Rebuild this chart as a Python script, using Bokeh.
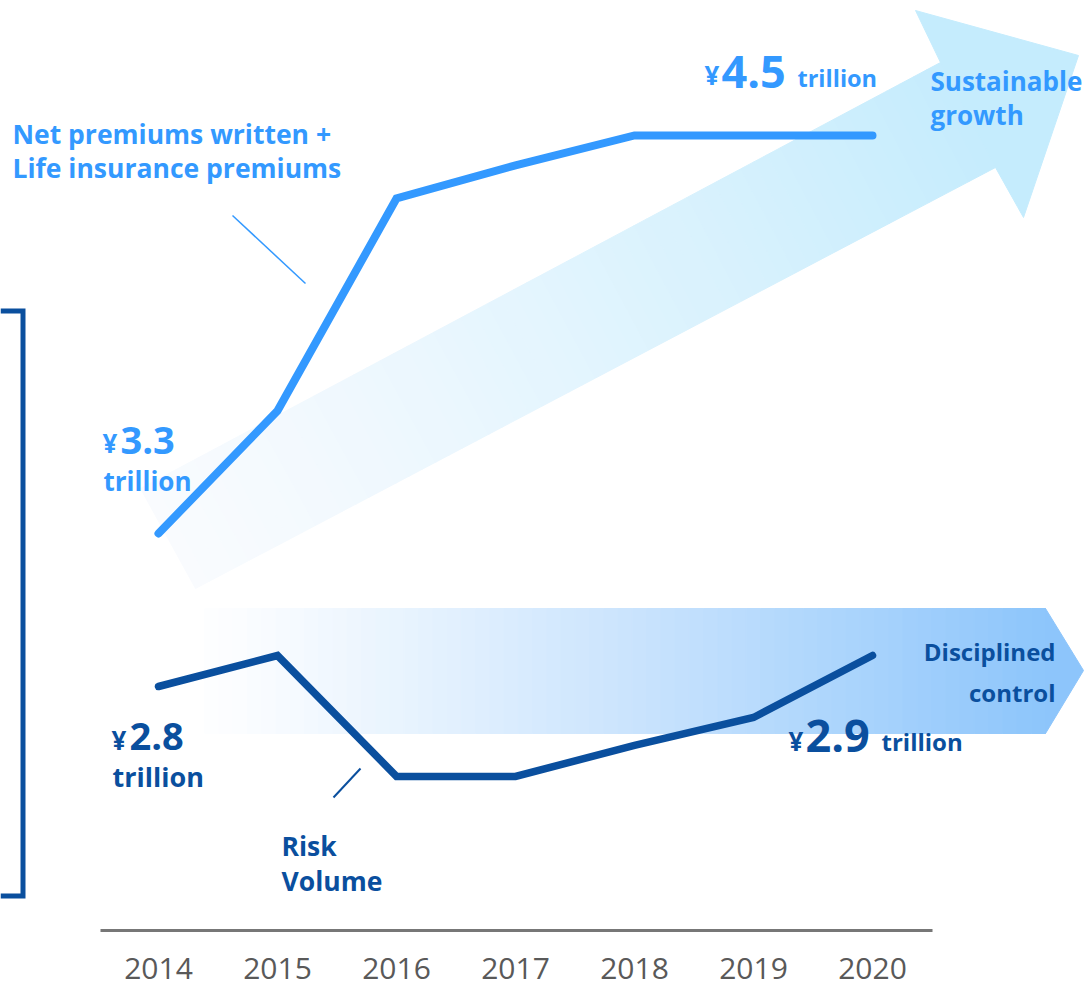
from bokeh.plotting import figure
from bokeh.models import Range1d
from bokeh.core.properties import value
from bokeh.embed import file_html
from bokeh.resources import INLINE

# ---------------- data ----------------
years = [2014, 2015, 2016, 2017, 2018, 2019, 2020]
year_labels = ["2014", "2015", "2016", "2017", "2018", "2019", "2020"]
premiums = [3.3, 3.67, 4.31, 4.41, 4.5, 4.5, 4.5]      # trillion yen
risk_volume = [2.8, 2.9, 2.51, 2.51, 2.61, 2.70, 2.9]  # trillion yen

# ---------------- layout helpers (pixel -> data) ----------------
W, H = 1089, 987
PX0, PXS = 158.0, 119.0          # pixel of first year, pixels per year
PA, PB = 1627.5, 331.67          # premiums scale: py = PA - PB*v
RA, RB = 1554.0, 310.0           # risk scale

def X(px):
    return years[0] + (px - PX0) / PXS

def Y(py):
    return (PA - py) / PB

LIGHT = "#3399ff"
DARK = "#0a4f9e"
FONT = value("Open Sans")

p = figure(width=W, height=H, output_backend="svg", toolbar_location=None,
           x_range=Range1d(X(0), X(W)), y_range=Range1d(Y(H), Y(0)),
           x_axis_type=None, y_axis_type=None, min_border=0,
           outline_line_color=None, background_fill_color="white",
           border_fill_color="white")
p.extra_y_ranges = {"risk": Range1d((RA - H) / RB, RA / RB)}
p.grid.visible = False

def mix(c0, c1, t):
    return "#%02x%02x%02x" % tuple(int(round(a + (b - a) * t)) for a, b in zip(c0, c1))

# ---------------- upper (growth) arrow with gradient ----------------
TL, TR = (140, 488), (940, 62)
BL, BR = (195, 588), (995, 167)
c_start, c_end = (249, 251, 254), (197, 236, 253)
N = 60
xs, ys, cols = [], [], []
for i in range(N):
    t0, t1 = i / N, (i + 1) / N
    pts = [
        (TL[0] + (TR[0] - TL[0]) * t0, TL[1] + (TR[1] - TL[1]) * t0),
        (TL[0] + (TR[0] - TL[0]) * t1, TL[1] + (TR[1] - TL[1]) * t1),
        (BL[0] + (BR[0] - BL[0]) * t1, BL[1] + (BR[1] - BL[1]) * t1),
        (BL[0] + (BR[0] - BL[0]) * t0, BL[1] + (BR[1] - BL[1]) * t0),
    ]
    xs.append([X(a) for a, b in pts])
    ys.append([Y(b) for a, b in pts])
    cols.append(mix(c_start, c_end, ((t0 + t1) / 2) ** 1.2))
head = [(940, 62), (915, 10), (1078, 55), (1023, 217), (995, 167)]
xs.append([X(a) for a, b in head])
ys.append([Y(b) for a, b in head])
cols.append(mix(c_start, c_end, 1.0))
p.patches(xs, ys, fill_color=cols, line_color=cols, line_width=1)

# ---------------- lower (control) arrow with gradient ----------------
x0, x1, yt, yb = 190, 1045, 608, 733
c2s, c2e = (255, 255, 255), (141, 197, 251)
xs, ys, cols = [], [], []
for i in range(N):
    t0, t1 = i / N, (i + 1) / N
    a0, a1 = x0 + (x1 - x0) * t0, x0 + (x1 - x0) * t1
    xs.append([X(a0), X(a1), X(a1), X(a0)])
    ys.append([Y(yt), Y(yt), Y(yb), Y(yb)])
    cols.append(mix(c2s, c2e, ((t0 + t1) / 2) ** 1.15))
xs.append([X(1045), X(1083), X(1045)])
ys.append([Y(608), Y(670), Y(733)])
cols.append(mix(c2s, c2e, 1.0))
p.patches(xs, ys, fill_color=cols, line_color=cols, line_width=1)

# ---------------- data lines ----------------
p.line(years, premiums, line_color=LIGHT, line_width=8,
       line_cap="round", line_join="miter")
p.line(years, risk_volume, line_color=DARK, line_width=7.5,
       line_cap="round", line_join="miter", y_range_name="risk")

# ---------------- baseline + year labels ----------------
p.line([X(100), X(932)], [Y(930), Y(930)], line_color="#777777", line_width=3)
p.text(years, [Y(968)] * len(years), text=year_labels, text_font=FONT,
       text_font_size="30px", text_color="#595959",
       text_align="center", text_baseline="middle")

# ---------------- left bracket ----------------
p.line([X(0), X(22.5), X(22.5), X(0)], [Y(310.5), Y(310.5), Y(895.5), Y(895.5)],
       line_color=DARK, line_width=5, line_join="miter")

# ---------------- leader lines ----------------
p.line([X(232), X(305)], [Y(215), Y(283)], line_color=LIGHT, line_width=1.5)
p.line([X(360), X(333)], [Y(768), Y(797)], line_color=DARK, line_width=2)

# ---------------- text ----------------
def txt(px, py, s, size, color, align="left"):
    p.text([X(px)], [Y(py)], text=[s], text_font=FONT,
           text_font_style="bold", text_font_size=size, text_color=color,
           text_align=align, text_baseline="middle")

txt(12, 133, "Net premiums written +", "26.5px", LIGHT)
txt(12, 167, "Life insurance premiums", "26.5px", LIGHT)
txt(930, 80, "Sustainable", "26px", LIGHT)
txt(930, 114, "growth", "26px", LIGHT)

# ¥3.3 trillion
txt(102, 442, "¥", "26px", LIGHT)
txt(120, 440, "3.3", "38px", LIGHT)
txt(103, 480, "trillion", "26px", LIGHT)

# ¥4.5 trillion
txt(704, 74, "¥", "26px", LIGHT)
txt(721, 71, "4.5", "45px", LIGHT)
txt(797, 77, "trillion", "23.5px", LIGHT)

# ¥2.8 trillion
txt(111, 739, "¥", "26px", DARK)
txt(129, 736, "2.8", "38px", DARK)
txt(112, 776, "trillion", "27px", DARK)

# ¥2.9 trillion
txt(788, 740, "¥", "26px", DARK)
txt(805, 735, "2.9", "45px", DARK)
txt(881, 741, "trillion", "24px", DARK)

txt(1055, 651, "Disciplined", "24px", DARK, align="right")
txt(1055, 692, "control", "24px", DARK, align="right")
txt(281, 845, "Risk", "26.5px", DARK)
txt(281, 880, "Volume", "26.5px", DARK)

open("out.html", "w").write(file_html(p, INLINE))
